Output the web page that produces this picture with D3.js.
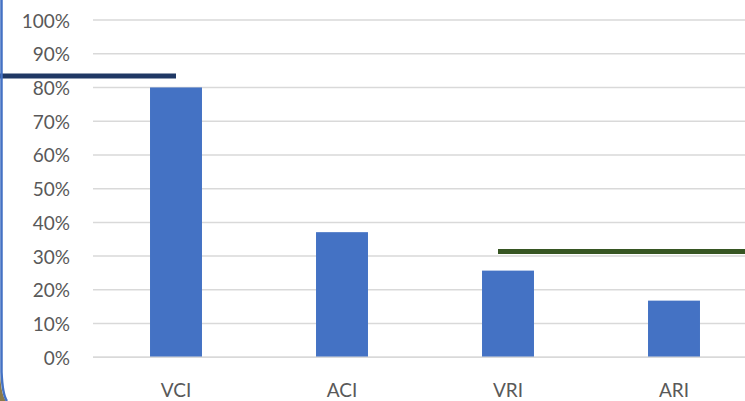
<!DOCTYPE html>
<html>
<head>
<meta charset="utf-8">
<script src="https://cdn.jsdelivr.net/npm/d3@7"></script>
<style>
  html, body { margin: 0; padding: 0; background: #fff; overflow: hidden; }
  svg { display: block; }
  text { font-family: Lato, "Open Sans", sans-serif; fill: #595959; }
</style>
</head>
<body>
<svg id="chart" width="745" height="401"></svg>
<script>
const categories = ["VCI", "ACI", "VRI", "ARI"];
const values = [0.80, 0.371, 0.257, 0.168];
const yTicks = [0, 0.1, 0.2, 0.3, 0.4, 0.5, 0.6, 0.7, 0.8, 0.9, 1.0];
const refValues = [0.834, 0.314];
const refColors = ["#1f3864", "#375623"];

const W = 745, H = 401;
const svg = d3.select("#chart");

const x = d3.scaleBand().domain(categories).range([93, 757])
  .paddingInner(0.687).paddingOuter(0.3435);
const y = d3.scaleLinear().domain([0, 1]).range([357.3, 20]);

// gridlines
svg.append("g").selectAll("line").data(yTicks).join("line")
  .attr("x1", 93).attr("x2", 757)
  .attr("y1", d => y(d)).attr("y2", d => y(d))
  .attr("stroke", "#d9d9d9").attr("stroke-width", 1.5);

// y labels
const fmt = d3.format(".0%");
svg.append("g").selectAll("text").data(yTicks).join("text")
  .attr("x", 70).attr("y", d => y(d))
  .attr("text-anchor", "end").attr("dominant-baseline", "central")
  .style("font-size", "19px")
  .text(d => fmt(d));

// bars
svg.append("g").selectAll("rect").data(categories).join("rect")
  .attr("x", d => x(d)).attr("width", x.bandwidth())
  .attr("y", (d, i) => y(values[i]))
  .attr("height", (d, i) => y(0) - y(values[i]))
  .attr("fill", "#4472c4");

// redraw baseline over bars
svg.append("line").attr("x1", 93).attr("x2", 757)
  .attr("y1", y(0)).attr("y2", y(0))
  .attr("stroke", "#d9d9d9").attr("stroke-width", 1.5);

// x labels
svg.append("g").selectAll("text").data(categories).join("text")
  .attr("x", d => x(d) + x.bandwidth() / 2).attr("y", 389.5)
  .attr("text-anchor", "middle").attr("dominant-baseline", "central")
  .style("font-size", "19px")
  .text(d => d);

// reference lines
const c0 = x(categories[0]) + x.bandwidth() / 2;
const c2 = x(categories[2]) + x.bandwidth() / 2 - 10;
const refExtents = [[0, c0], [c2, W]];
svg.append("g").selectAll("line").data(refValues).join("line")
  .attr("x1", (d, i) => refExtents[i][0]).attr("x2", (d, i) => refExtents[i][1])
  .attr("y1", d => y(d)).attr("y2", d => y(d))
  .attr("stroke", (d, i) => refColors[i]).attr("stroke-width", 5);

// left frame with rounded bottom corner
svg.append("path")
  .attr("d", "M0,372 Q1,395 6,401 L0,401 Z")
  .attr("fill", "#8a7a4a");
svg.append("path")
  .attr("d", "M1.5,0 L1.5,372 Q2.5,395 7,401")
  .attr("fill", "none").attr("stroke", "#4472c4").attr("stroke-width", 2.5);
</script>
</body>
</html>
